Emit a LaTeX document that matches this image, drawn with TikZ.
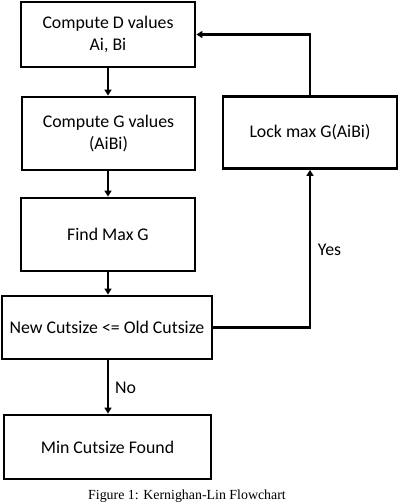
\documentclass[tikz,border=0pt]{standalone}
\usepackage{fontspec}
\setmainfont{Carlito}
\newfontfamily\capfont{Liberation Serif}
\usetikzlibrary{arrows.meta}
\begin{document}
\begin{tikzpicture}[x=1pt,y=-1pt,
  box/.style={draw=black,line width=2.8pt,fill=white,inner sep=0pt,align=center,
    font=\fontsize{17.8}{21.5}\selectfont},
  conn/.style={line width=2.2pt,-{Triangle[width=7pt,length=6pt]}},
  lbl/.style={font=\fontsize{17.8}{21.5}\selectfont,inner sep=0pt}]
\useasboundingbox (0,0) rectangle (400,504);
\node[box,minimum width=174pt,minimum height=65pt] (b1) at (108,34.5) {Compute D values\\Ai, Bi};
\node[box,minimum width=173pt,minimum height=73pt] (b2) at (108.5,133.5) {Compute G values\\(AiBi)};
\node[box,minimum width=174pt,minimum height=72pt] (lock) at (310,132.5) {Lock max G(AiBi)};
\node[box,minimum width=174pt,minimum height=73pt] (b3) at (108,234.5) {Find Max G};
\node[box,minimum width=210pt,minimum height=63pt] (b4) at (107,327.5) {New Cutsize <= Old Cutsize};
\node[box,minimum width=207pt,minimum height=64pt] (b5) at (107.5,447) {Min Cutsize Found};
\draw[conn] (b1.south) -- (b1.south |- b2.north);
\draw[conn] (b1.south |- b2.south) -- (b3.north);
\draw[conn] (b3.south) -- (b3.south |- b4.north);
\draw[conn] (b3.south |- b4.south) -- (b3.south |- b5.north);
\draw[conn] (b4.east) -| (lock.south);
\draw[conn] (lock.north) |- (b1.east);
\node[lbl] (yes) at (329.5,250) {Yes};
\node[lbl] (no) at (125.5,388) {No};
\node[inner sep=0pt,font=\capfont\fontsize{13.9}{16}\selectfont] (cap) at (187,496) {Figure 1: Kernighan-Lin Flowchart};
\end{tikzpicture}
\end{document}
